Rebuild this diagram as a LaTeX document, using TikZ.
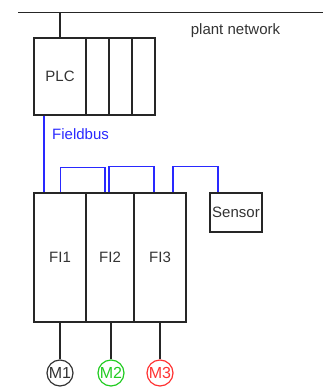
\documentclass[tikz,border=0pt]{standalone}
\usepackage{fontspec}
\setmainfont{Liberation Sans}
\usetikzlibrary{calc}
\definecolor{txt}{HTML}{333333}
\definecolor{bus}{HTML}{2929FF}
\definecolor{mgreen}{HTML}{22CC22}
\definecolor{mred}{HTML}{FF3333}
\tikzset{
  box/.style={draw=black!85, line width=1.2pt, rectangle, inner sep=0pt, font=\fontsize{15}{17}\selectfont, text=txt},
  motor/.style={draw, circle, line width=1.2pt, minimum size=26pt, inner sep=0pt, font=\fontsize{16}{17}\selectfont},
  wire/.style={color=black!85, line width=1.2pt},
  buswire/.style={color=bus, line width=1.2pt},
  lbl/.style={font=\fontsize{15}{17}\selectfont, inner sep=0pt}
}
\begin{document}
\begin{tikzpicture}[x=1pt,y=-1pt]
\useasboundingbox (0,0) rectangle (323,387);
% PLC rack
\node[box, minimum width=52pt, minimum height=77pt] (PLC) at (60,76.5) {PLC};
\node[box, minimum width=23pt, minimum height=77pt] (s1) at (97.5,76.5) {};
\node[box, minimum width=23pt, minimum height=77pt] (s2) at (120.5,76.5) {};
\node[box, minimum width=23pt, minimum height=77pt] (s3) at (143.5,76.5) {};
% plant network
\coordinate (netL) at (18,12.5);
\coordinate (netR) at (323,12.5);
\draw[wire] (netL) -- (netR);
\draw[wire] (PLC.north) -- (PLC.north |- netL);
\node[lbl, text=txt] (net) at (235.5,31) {plant network};
% frequency inverters
\node[box, minimum width=52pt, minimum height=129pt] (FI1) at (60,257.5) {FI1};
\node[box, minimum width=48pt, minimum height=129pt] (FI2) at (110,257.5) {FI2};
\node[box, minimum width=52pt, minimum height=129pt] (FI3) at (160,257.5) {FI3};
% sensor
\node[box, minimum width=52pt, minimum height=39pt] (S) at (236,212.5) {Sensor};
% fieldbus
\draw[buswire] ([xshift=10.5pt]PLC.south west) -- ([xshift=10.5pt]FI1.north west);
\node[lbl, text=bus, anchor=west] (fb) at (52,134) {Fieldbus};
\coordinate (b1) at (60.5,167.5);
\draw[buswire] ([xshift=0.5pt]FI1.north) -- (b1) -| ([xshift=19.5pt]FI2.north west);
\draw[buswire] ([xshift=23.5pt]FI2.north west) -- ++(0,-25.5) -| ([xshift=20.5pt]FI3.north west);
\draw[buswire] ([xshift=39.5pt]FI3.north west) -- ++(0,-25.5) -| ([xshift=8.5pt]S.north west);
% motors
\node[motor, draw=black!80, text=txt] (M1) at (60,373) {M1};
\node[motor, draw=mgreen, text=mgreen] (M2) at (111,373) {M2};
\node[motor, draw=mred, text=mred] (M3) at (160,373) {M3};
\draw[wire] (FI1.south) -- (M1.north);
\draw[wire] (M2.north |- FI2.south) -- (M2.north);
\draw[wire] (M3.north |- FI3.south) -- (M3.north);
\end{tikzpicture}
\end{document}
